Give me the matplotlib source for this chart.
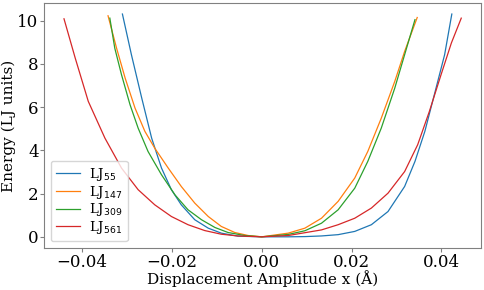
import matplotlib.pyplot as plt
import numpy as np

plt.rcParams['font.family'] = 'DejaVu Serif'

# energy curves
x_55 = [-0.0310, -0.0290, -0.0267, -0.0245, -0.0223, -0.0201, -0.0179, -0.0149, -0.0119,
        -0.0090, -0.0053, 0.0, 0.0059, 0.0096, 0.0133, 0.0170, 0.0207, 0.0244, 0.0281,
        0.0318, 0.0341, 0.0363, 0.0384, 0.0407, 0.0423]
e_55 = [10.31, 8.43, 6.42, 4.57, 3.18, 2.18, 1.48, 0.79, 0.40,
        0.17, 0.03, 0.0, 0.0, 0.01, 0.04, 0.10, 0.25, 0.56, 1.17,
        2.33, 3.49, 4.88, 6.57, 8.43, 10.31]

x_147 = [-0.0342, -0.0323, -0.0304, -0.0282, -0.0260, -0.0238, -0.0208, -0.0179, -0.0149,
         -0.0119, -0.0090, -0.0060, -0.0030, 0.0, 0.0059, 0.0096, 0.0133, 0.0170, 0.0207,
         0.0236, 0.0266, 0.0296, 0.0318, 0.0346]
e_147 = [10.23, 8.73, 7.35, 5.96, 4.88, 4.10, 3.18, 2.33, 1.56,
         0.94, 0.48, 0.20, 0.06, 0.0, 0.17, 0.40, 0.86, 1.64, 2.72,
         3.95, 5.49, 7.19, 8.58, 10.15]

x_309 = [-0.0338, -0.0327, -0.0312, -0.0293, -0.0275, -0.0253, -0.0223, -0.0193, -0.0164,
         -0.0134, -0.0104, -0.0075, -0.0038, 0.0, 0.0059, 0.0096, 0.0133, 0.0170, 0.0207,
         0.0236, 0.0266, 0.0296, 0.0318, 0.0341]
e_309 = [10.12, 8.73, 7.50, 6.11, 5.03, 3.95, 2.87, 1.94, 1.25,
         0.79, 0.43, 0.20, 0.06, 0.0, 0.11, 0.28, 0.63, 1.25, 2.25,
         3.49, 5.03, 6.88, 8.43, 10.05]

x_561 = [-0.0440, -0.0415, -0.0386, -0.0349, -0.0312, -0.0275, -0.0238, -0.0201, -0.0164,
         -0.0127, -0.0090, -0.0053, 0.0, 0.0059, 0.0133, 0.0170, 0.0207, 0.0244, 0.0281,
         0.0318, 0.0347, 0.0373, 0.0399, 0.0422, 0.0444]
e_561 = [10.09, 8.27, 6.27, 4.57, 3.18, 2.18, 1.48, 0.94, 0.56,
         0.29, 0.12, 0.04, 0.0, 0.06, 0.32, 0.56, 0.86, 1.33, 2.02,
         3.02, 4.26, 5.80, 7.50, 8.97, 10.12]

curves = [(x_55, e_55, r'LJ$_{55}$'),
          (x_147, e_147, r'LJ$_{147}$'),
          (x_309, e_309, r'LJ$_{309}$'),
          (x_561, e_561, r'LJ$_{561}$')]

fig = plt.figure(figsize=(4.85, 2.9), dpi=100)
ax = fig.add_axes([0.091, 0.145, 0.901, 0.845])

for xs, es, lab in curves:
    ax.plot(xs, es, lw=0.9, label=lab)

ax.set_xlabel('Displacement Amplitude x (Å)', fontsize=11, labelpad=0)
ax.set_ylabel('Energy (LJ units)', fontsize=11, labelpad=1)
ax.tick_params(labelsize=12, color='gray', length=3, pad=1)
for s in ax.spines.values():
    s.set_color('gray')
ax.set_xticks([-0.04, -0.02, 0.0, 0.02, 0.04])
ax.set_yticks([0, 2, 4, 6, 8, 10])
ax.legend(loc='lower left', fontsize=9.5, labelspacing=0.05, handlelength=1.8,
          handletextpad=0.7, borderpad=0.4)

fig.savefig('out.png')
